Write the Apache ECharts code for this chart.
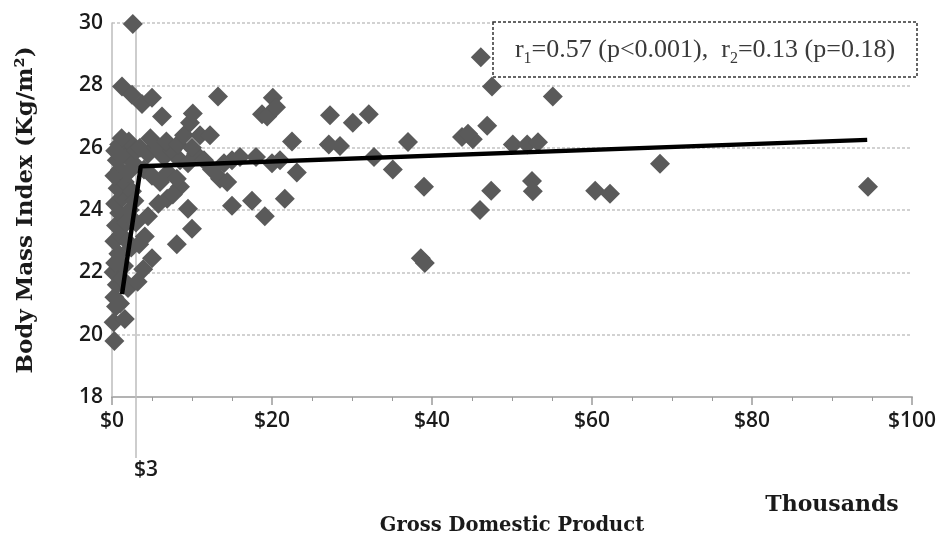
<!DOCTYPE html>
<html>
<head>
<meta charset="utf-8">
<script src="https://cdn.jsdelivr.net/npm/echarts@6/dist/echarts.min.js"></script>
<style>html,body{margin:0;padding:0;background:#fff;}#c{width:944px;height:541px;}</style>
</head>
<body>
<div id="c"></div>
<script>
// GDP (thousands $) vs BMI
const gdpBmi = [
  // low-income cluster (0-3)
  [0.3,19.8],[0.2,20.4],[1.6,20.5],[0.5,20.9],[0.3,21.2],[1.0,21.0],[0.6,21.6],[0.2,22.0],
  [1.2,21.8],[0.4,22.3],[0.8,22.6],[1.5,22.2],[0.3,23.0],[1.1,23.2],[0.5,23.5],[0.9,23.9],
  [1.8,23.6],[0.4,24.2],[1.3,24.4],[2.2,24.0],[0.7,24.7],[1.6,24.9],[2.5,24.6],[0.3,25.1],
  [1.0,25.3],[2.0,25.2],[0.6,25.6],[1.5,25.8],[2.7,25.5],[0.9,26.1],[2.1,26.2],[3.0,25.9],
  [1.2,26.3],[0.4,25.9],[2.4,22.8],[2.0,21.5],[1.9,23.0],[2.8,24.3],[1.25,27.96],[2.5,27.7],
  [2.6,29.97],[3.2,21.7],[3.9,22.1],[4.1,23.15],[4.5,23.8],[5.0,22.45],[3.4,22.9],[3.0,23.6],
  // 3-12
  [3.75,27.4],[5.0,27.6],[6.25,27.0],[3.5,26.0],[4.5,25.8],[5.5,26.0],[6.5,25.7],[7.5,25.9],
  [8.5,25.6],[4.0,25.3],[5.0,25.1],[6.0,24.9],[7.0,25.2],[9.5,25.5],[10.5,25.8],[11.5,25.6],
  [4.8,26.3],[6.8,26.2],[8.2,26.1],[10.0,26.0],[9.0,26.4],[11.0,26.4],[12.25,26.4],
  [9.75,26.8],[10.1,27.1],[6.9,24.36],[8.5,24.75],[9.5,24.04],[8.1,25.0],[8.1,22.9],[10.0,23.4],
  [5.8,24.2],[7.6,24.5],
  // 12-24
  [13.25,27.64],[13.5,25.0],[14.4,24.9],[15.0,24.14],[15.0,25.6],[16.0,25.7],[14.0,25.5],
  [17.5,24.3],[18.0,25.7],[19.1,23.8],[18.75,27.07],[19.4,27.0],[20.1,27.6],[20.5,27.3],
  [20.0,25.5],[21.0,25.6],[21.6,24.36],[22.5,26.2],[23.1,25.2],[12.5,25.3],
  // 27-40
  [27.25,27.04],[27.1,26.1],[28.5,26.05],[30.1,26.8],[32.1,27.07],[32.75,25.7],[35.1,25.3],
  [37.0,26.18],[39.0,24.75],[38.6,22.45],[39.1,22.3],
  // 43-56
  [46.1,28.9],[47.5,27.96],[55.1,27.64],[46.9,26.7],[43.75,26.34],[45.1,26.27],[44.5,26.45],
  [50.1,26.1],[51.9,26.1],[53.25,26.17],[52.5,24.93],[52.6,24.6],[47.4,24.62],[46.0,24.0],
  // high income
  [60.4,24.62],[62.25,24.52],[68.5,25.48],[94.5,24.75]
];
// piecewise fitted line (breakpoint near $3 thousand)
const fitLine = [[1.25,21.3],[3.6,25.4],[94.4,26.25]];
const xTicks = [0,20,40,60,80,100];
const yTicks = [18,20,22,24,26,28,30];
const breakX = 3;

const chart = echarts.init(document.getElementById('c'), null, {renderer:'canvas'});
const labelFont = '"Open Sans", sans-serif';
const titleFont = '"DejaVu Serif", serif';
chart.setOption({
  animation:false,
  backgroundColor:'#fff',
  grid:{left:112, right:32, top:23, bottom:141, containLabel:false},
  xAxis:{
    type:'value', min:xTicks[0], max:xTicks[xTicks.length-1], interval:20,
    name:'Gross Domestic Product', nameLocation:'middle', nameGap:119,
    nameTextStyle:{fontFamily:titleFont, fontWeight:'bold', fontSize:19.5, color:'#1a1a1a'},
    axisLine:{show:true, lineStyle:{color:'#b3b3b3', width:2}},
    axisTick:{show:true, length:8, lineStyle:{color:'#9a9a9a', width:1.5}},
    minorTick:{show:true, splitNumber:4, length:4, lineStyle:{color:'#9a9a9a', width:1}},
    splitLine:{show:false},
    axisLabel:{formatter:v=>'$'+v, fontFamily:labelFont, fontWeight:600, fontSize:21, color:'#1a1a1a', margin:14}
  },
  yAxis:{
    type:'value', min:yTicks[0], max:yTicks[yTicks.length-1], interval:2,
    name:'Body Mass Index (Kg/m²)', nameLocation:'middle', nameGap:74, nameRotate:90,
    nameTextStyle:{fontFamily:titleFont, fontWeight:'bold', fontSize:23, color:'#1a1a1a'},
    axisLine:{show:true, lineStyle:{color:'#bdbdbd', width:1.5}},
    axisTick:{show:false},
    splitLine:{show:true, lineStyle:{color:'#c4c4c4', width:1.5, type:[3,2]}},
    axisLabel:{fontFamily:labelFont, fontWeight:600, fontSize:21, color:'#1a1a1a', margin:9}
  },
  series:[
    {type:'scatter', data:gdpBmi, symbol:'diamond', symbolSize:20,
     itemStyle:{color:'#5a5a5a', opacity:1}, z:2},
    {type:'line', data:fitLine, symbol:'none', lineStyle:{color:'#000', width:4.5}, z:3}
  ]
});

const bx = chart.convertToPixel({xAxisIndex:0}, breakX);
const topY = chart.convertToPixel({yAxisIndex:0}, 30);
chart.setOption({
  graphic:[
    {type:'line', shape:{x1:bx, y1:topY-3, x2:bx, y2:458}, style:{stroke:'#bdbdbd', lineWidth:1.5}, z:1},
    {type:'text', x:bx+10, y:470, style:{text:'$'+breakX, fontFamily:labelFont, fontWeight:600, fontSize:21, fill:'#1a1a1a', align:'center', verticalAlign:'middle'}},
    {type:'text', x:832, y:505, style:{text:'Thousands', fontFamily:titleFont, fontWeight:'bold', fontSize:22, fill:'#1a1a1a', align:'center', verticalAlign:'middle'}},
    {type:'rect', shape:{x:493, y:22, width:424, height:55}, style:{fill:'#fff', stroke:'#333', lineWidth:1.5, lineDash:[3,2]}, z:10},
    {type:'text', x:705, y:50, z:11, style:{
      text:'r{s|1}=0.57 (p<0.001),  r{s|2}=0.13 (p=0.18)',
      fontFamily:'"Liberation Serif", serif', fontSize:26, fill:'#3a3a3a', align:'center', verticalAlign:'middle',
      rich:{s:{fontFamily:'"Liberation Serif", serif', fontSize:16, fill:'#3a3a3a', verticalAlign:'bottom', lineHeight:34}}
    }}
  ]
});
</script>
</body>
</html>
